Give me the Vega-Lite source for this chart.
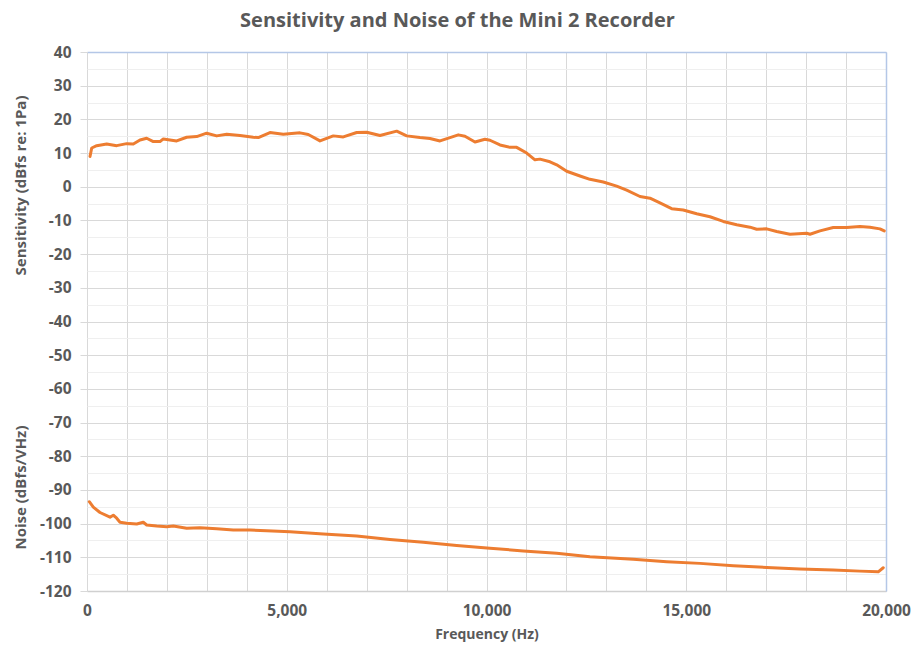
{
  "$schema": "https://vega.github.io/schema/vega-lite/v6.json",
  "width": 799,
  "height": 539,
  "autosize": {"type": "none"},
  "padding": {"left": 87, "top": 52, "right": 28, "bottom": 66},
  "background": "white",
  "title": {
    "text": "Sensitivity and Noise of the Mini 2 Recorder",
    "font": "Open Sans",
    "fontSize": 20,
    "fontWeight": "bold",
    "color": "#595959",
    "anchor": "middle",
    "frame": "group",
    "dx": -29,
    "offset": 14
  },
  "config": {"view": {"stroke": null}, "font": "Open Sans"},
  "datasets": {
    "sens": [
      {"freq": 75, "value": 9.0}, {"freq": 118, "value": 11.5}, {"freq": 243, "value": 12.2},
      {"freq": 493, "value": 12.7}, {"freq": 743, "value": 12.2}, {"freq": 994, "value": 12.8},
      {"freq": 1159, "value": 12.7}, {"freq": 1327, "value": 13.9}, {"freq": 1494, "value": 14.4},
      {"freq": 1660, "value": 13.4}, {"freq": 1827, "value": 13.4}, {"freq": 1910, "value": 14.2},
      {"freq": 2077, "value": 13.9}, {"freq": 2245, "value": 13.6}, {"freq": 2495, "value": 14.7},
      {"freq": 2746, "value": 14.9}, {"freq": 2996, "value": 15.9}, {"freq": 3246, "value": 15.1},
      {"freq": 3497, "value": 15.6}, {"freq": 3830, "value": 15.2}, {"freq": 4163, "value": 14.7},
      {"freq": 4288, "value": 14.6}, {"freq": 4580, "value": 16.1}, {"freq": 4913, "value": 15.6},
      {"freq": 5331, "value": 16.0}, {"freq": 5539, "value": 15.5}, {"freq": 5832, "value": 13.6},
      {"freq": 6165, "value": 15.1}, {"freq": 6415, "value": 14.8}, {"freq": 6751, "value": 16.1},
      {"freq": 7001, "value": 16.2}, {"freq": 7334, "value": 15.2}, {"freq": 7752, "value": 16.5},
      {"freq": 8002, "value": 15.1}, {"freq": 8335, "value": 14.6}, {"freq": 8585, "value": 14.3},
      {"freq": 8836, "value": 13.6}, {"freq": 9086, "value": 14.6}, {"freq": 9294, "value": 15.4},
      {"freq": 9461, "value": 15.0}, {"freq": 9712, "value": 13.3}, {"freq": 9962, "value": 14.1},
      {"freq": 10087, "value": 13.8}, {"freq": 10337, "value": 12.4}, {"freq": 10588, "value": 11.7},
      {"freq": 10755, "value": 11.7}, {"freq": 11006, "value": 10.0}, {"freq": 11213, "value": 8.0},
      {"freq": 11339, "value": 8.2}, {"freq": 11589, "value": 7.4}, {"freq": 11757, "value": 6.5},
      {"freq": 12007, "value": 4.6}, {"freq": 12340, "value": 3.2}, {"freq": 12590, "value": 2.2},
      {"freq": 12923, "value": 1.4}, {"freq": 13258, "value": 0.2}, {"freq": 13509, "value": -1.0},
      {"freq": 13842, "value": -2.9}, {"freq": 14092, "value": -3.4}, {"freq": 14342, "value": -4.8},
      {"freq": 14635, "value": -6.5}, {"freq": 14925, "value": -6.9}, {"freq": 15261, "value": -8.0},
      {"freq": 15594, "value": -8.9}, {"freq": 15927, "value": -10.3}, {"freq": 16262, "value": -11.3},
      {"freq": 16595, "value": -12.0}, {"freq": 16763, "value": -12.6}, {"freq": 17013, "value": -12.5},
      {"freq": 17263, "value": -13.3}, {"freq": 17596, "value": -14.1}, {"freq": 18014, "value": -13.8},
      {"freq": 18097, "value": -14.1}, {"freq": 18347, "value": -13.1}, {"freq": 18680, "value": -12.1},
      {"freq": 19015, "value": -12.1}, {"freq": 19348, "value": -11.8}, {"freq": 19598, "value": -12.0},
      {"freq": 19848, "value": -12.5}, {"freq": 19956, "value": -13.1}
    ],
    "noise": [
      {"freq": 58, "value": -93.5}, {"freq": 158, "value": -95.1}, {"freq": 325, "value": -96.7},
      {"freq": 576, "value": -98.1}, {"freq": 658, "value": -97.5}, {"freq": 743, "value": -98.4},
      {"freq": 826, "value": -99.6}, {"freq": 994, "value": -99.9}, {"freq": 1244, "value": -100.1},
      {"freq": 1409, "value": -99.6}, {"freq": 1494, "value": -100.4}, {"freq": 1745, "value": -100.7},
      {"freq": 1995, "value": -100.9}, {"freq": 2160, "value": -100.7}, {"freq": 2495, "value": -101.4},
      {"freq": 2828, "value": -101.2}, {"freq": 3246, "value": -101.5}, {"freq": 3662, "value": -101.9},
      {"freq": 4080, "value": -101.9}, {"freq": 4498, "value": -102.1}, {"freq": 5081, "value": -102.4},
      {"freq": 5915, "value": -103.1}, {"freq": 6751, "value": -103.7}, {"freq": 7584, "value": -104.7},
      {"freq": 8418, "value": -105.5}, {"freq": 9254, "value": -106.5}, {"freq": 10087, "value": -107.3},
      {"freq": 10921, "value": -108.1}, {"freq": 11757, "value": -108.8}, {"freq": 12590, "value": -109.8},
      {"freq": 13674, "value": -110.6}, {"freq": 14510, "value": -111.3}, {"freq": 15343, "value": -111.8},
      {"freq": 16177, "value": -112.5}, {"freq": 17013, "value": -113.0}, {"freq": 17846, "value": -113.5},
      {"freq": 18680, "value": -113.8}, {"freq": 19348, "value": -114.1}, {"freq": 19806, "value": -114.3},
      {"freq": 19931, "value": -113.1}
    ]
  },
  "layer": [
    {
      "data": {"name": "sens"},
      "mark": {"type": "line", "color": "#ED7D31", "strokeWidth": 3, "strokeCap": "round", "strokeJoin": "round"},
      "encoding": {
        "x": {
          "field": "freq", "type": "quantitative",
          "scale": {"domain": [0, 20000], "nice": false, "zero": false},
          "axis": {
            "orient": "bottom",
            "values": [0, 1000, 2000, 3000, 4000, 5000, 6000, 7000, 8000, 9000, 10000, 11000, 12000, 13000, 14000, 15000, 16000, 17000, 18000, 19000, 20000],
            "labelExpr": "datum.value % 5000 === 0 ? format(datum.value, ',') : ''",
            "labelOverlap": false,
            "labelFlush": false,
            "grid": true,
            "gridColor": "#d9d9d9",
            "gridWidth": 1,
            "domain": true,
            "domainColor": "#d0d0d0",
            "domainWidth": 1.5,
            "ticks": false,
            "labelFont": "Open Sans",
            "labelFontSize": 15.5,
            "labelFontWeight": "bold",
            "labelColor": "#595959",
            "labelPadding": 12,
            "title": "Frequency (Hz)",
            "titleFont": "Open Sans",
            "titleFontSize": 14,
            "titleFontWeight": "bold",
            "titleColor": "#595959",
            "titlePadding": 9
          }
        },
        "y": {
          "field": "value", "type": "quantitative",
          "scale": {"domain": [-120, 40], "nice": false, "zero": false},
          "axis": {
            "orient": "left",
            "values": [-120, -115, -110, -105, -100, -95, -90, -85, -80, -75, -70, -65, -60, -55, -50, -45, -40, -35, -30, -25, -20, -15, -10, -5, 0, 5, 10, 15, 20, 25, 30, 35, 40],
            "labelExpr": "datum.value % 10 === 0 ? '' + datum.value : ''",
            "labelOverlap": false,
            "labelFlush": false,
            "grid": true,
            "gridColor": {"condition": {"test": "datum.value % 10 === 0", "value": "#d9d9d9"}, "value": "#efefef"},
            "domain": false,
            "ticks": true,
            "tickSize": 7,
            "tickColor": {"condition": {"test": "datum.value % 10 === 0", "value": "#d9d9d9"}, "value": "rgba(0,0,0,0)"},
            "labelFont": "Open Sans",
            "labelFontSize": 15.5,
            "labelFontWeight": "bold",
            "labelColor": "#595959",
            "labelPadding": 9,
            "title": "Sensitivity (dBfs re: 1Pa)",
            "titleFont": "Open Sans",
            "titleFontSize": 15,
            "titleFontWeight": "bold",
            "titleColor": "#595959",
            "titleAngle": 270,
            "titleAlign": "center",
            "titleBaseline": "middle",
            "titleX": -67,
            "titleY": 133
          }
        }
      }
    },
    {
      "data": {"name": "noise"},
      "mark": {"type": "line", "color": "#ED7D31", "strokeWidth": 3, "strokeCap": "round", "strokeJoin": "round"},
      "encoding": {
        "x": {
          "field": "freq", "type": "quantitative",
          "scale": {"domain": [0, 20000], "nice": false, "zero": false},
          "axis": {
            "orient": "top",
            "domain": true,
            "domainColor": "#b4c7e7",
            "domainWidth": 1.5,
            "ticks": false,
            "labels": false,
            "grid": false,
            "title": null
          }
        },
        "y": {
          "field": "value", "type": "quantitative",
          "scale": {"domain": [-120, 40], "nice": false, "zero": false},
          "axis": {
            "orient": "right",
            "domain": true,
            "domainColor": "#b4c7e7",
            "domainWidth": 1.5,
            "ticks": false,
            "labels": false,
            "grid": false,
            "title": "Noise (dBfs/VHz)",
            "titleFont": "Open Sans",
            "titleFontSize": 15,
            "titleFontWeight": "bold",
            "titleColor": "#595959",
            "titleAngle": 270,
            "titleAlign": "center",
            "titleBaseline": "middle",
            "titleX": -866,
            "titleY": 435
          }
        }
      }
    }
  ],
  "resolve": {"axis": {"x": "independent", "y": "independent"}}
}
